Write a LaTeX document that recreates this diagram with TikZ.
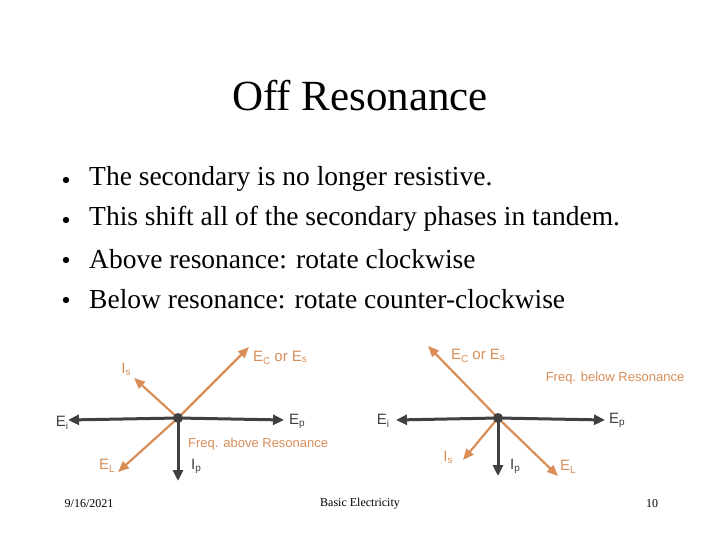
\documentclass[tikz,border=0pt]{standalone}
\usepackage{fontspec}
\setmainfont{Liberation Serif}
\newfontfamily\lsans{Liberation Sans}
\usetikzlibrary{arrows.meta}
\definecolor{dk}{HTML}{404040}
\definecolor{org}{HTML}{D98E58}
\newcommand{\sbx}[2][-3pt]{\raisebox{#1}{\fontsize{10}{11}\selectfont #2}}
\begin{document}
\begin{tikzpicture}[x=1pt,y=-1pt,
 dv/.style={draw=dk,line width=3pt,-{Triangle[length=11pt,width=10pt]}},
 ov/.style={draw=org,line width=2.2pt,-{Triangle[length=11pt,width=9pt]}},
 dl/.style={text=dk,font=\lsans\fontsize{15}{16}\selectfont,inner sep=0},
 ol/.style={text=org,font=\lsans\fontsize{15}{16}\selectfont,inner sep=0},
 bl/.style={anchor=west,inner sep=0,font=\fontsize{27.5}{30}\selectfont},
 ft/.style={inner sep=0,font=\fontsize{12}{14}\selectfont}]
\useasboundingbox[fill=white] (0,0) rectangle (720,540);
\node[inner sep=0,font=\fontsize{43}{46}\selectfont] (title) at (360,96) {Off Resonance};
\foreach \y/\t [count=\i] in {179/The secondary is no longer resistive.,219/This shift all of the secondary phases in tandem.,259/Above resonance: rotate clockwise,299/Below resonance: rotate counter-clockwise}{
 \node[bl] (t\i) at (89,\y) {\t};
 \fill (66,\y+1) circle (3.2pt);}
% left diagram
\coordinate (c1) at (178,418);
\coordinate (a1) at (68,420); \coordinate (a2) at (284,420);
\coordinate (a3) at (249,347); \coordinate (a4) at (118,472);
\coordinate (a5) at (134,378); \coordinate (a6) at (178,481);
\draw[ov] (c1) -- (a3); \draw[ov] (c1) -- (a4); \draw[ov] (c1) -- (a5);
\draw[dv] (c1) -- (a1); \draw[dv] (c1) -- (a2); \draw[dv] (c1) -- (a6);
\fill[dk] (c1) circle (5pt);
\node[dl] (l1) at (62,423) {E\sbx{i}};
\node[dl] (l2) at (297,421) {E\sbx[-2pt]{p}};
\node[ol] (l3) at (280,358) {E\sbx{C} or E\sbx[-1pt]{s}};
\node[ol] (l4) at (107,466) {E\sbx{L}};
\node[ol] (l5) at (126,369) {I\sbx[-2pt]{s}};
\node[dl] (l6) at (196,466) {I\sbx[-2pt]{p}};
\node[ol,font=\lsans\fontsize{13}{14}\selectfont,anchor=west] (l7) at (188,444) {Freq. above Resonance};
% right diagram
\coordinate (c2) at (498,418);
\coordinate (r1) at (396,420); \coordinate (r2) at (605,420);
\coordinate (r3) at (428,346); \coordinate (r4) at (558,476);
\coordinate (r5) at (463,460); \coordinate (r6) at (498,476);
\draw[ov] (c2) -- (r3); \draw[ov] (c2) -- (r4); \draw[ov] (c2) -- (r5);
\draw[dv] (c2) -- (r1); \draw[dv] (c2) -- (r2); \draw[dv] (c2) -- (r6);
\fill[dk] (c2) circle (5pt);
\node[dl] (m1) at (383,421) {E\sbx{i}};
\node[dl] (m2) at (617,420) {E\sbx[-2pt]{p}};
\node[ol] (m3) at (478,356) {E\sbx{C} or E\sbx[-1pt]{s}};
\node[ol] (m4) at (568,467) {E\sbx{L}};
\node[ol] (m5) at (448,457) {I\sbx[-2pt]{s}};
\node[dl] (m6) at (515,466) {I\sbx[-2pt]{p}};
\node[ol,font=\lsans\fontsize{13}{14}\selectfont] (m7) at (615,378) {Freq. below Resonance};
% footer
\node[ft] (f1) at (89,504) {9/16/2021};
\node[ft] (f2) at (360,504) {Basic Electricity};
\node[ft] (f3) at (652,504) {10};
\end{tikzpicture}
\end{document}
